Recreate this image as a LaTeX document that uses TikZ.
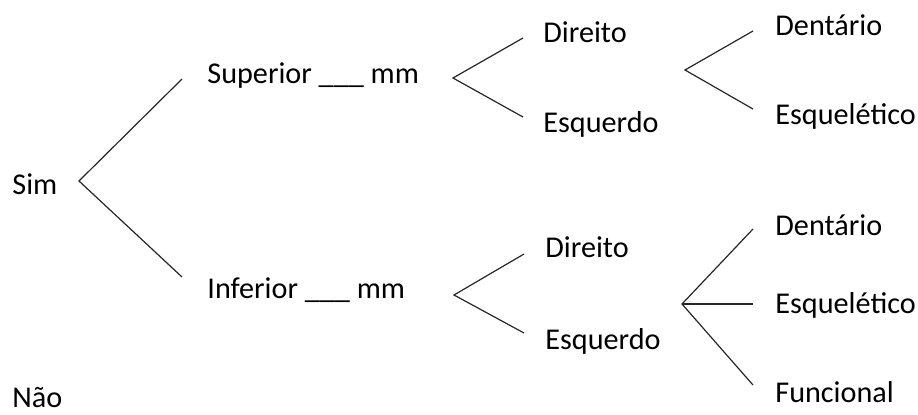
\documentclass[tikz,border=0pt]{standalone}
\usepackage{fontspec}
\setmainfont{Carlito}

\begin{document}
\begin{tikzpicture}[x=0.5pt, y=-0.5pt]
        \tikzset{lbl/.style={anchor=base west, inner sep=0pt, font=\fontsize{15.1}{17}\selectfont}}
        \tikzset{fork/.style={line width=0.6pt, black!85}}

        \useasboundingbox (0, 0) rectangle (918, 414);

        % first level
        \node[lbl] (sim) at (12, 194) {Sim};
        \node[lbl] (nao) at (12, 407) {Não};

        \coordinate (sim-r) at (79, 181);
        \coordinate (sup-l) at (182, 79);
        \coordinate (inf-l) at (182, 277);

        \draw[fork] (sup-l) -- (sim-r) -- (inf-l);

        \node[lbl] (sup) at (207, 83)  {Superior \_\_\_ mm};
        \node[lbl] (inf) at (207, 298) {Inferior \_\_\_ mm};

        % superior
            \coordinate (sup-r)   at (453, 78);
            \coordinate (supd-l)  at (523, 38);
            \coordinate (supe-l)  at (523, 117);
            \draw[fork] (supd-l) -- (sup-r) -- (supe-l);

            \node[lbl] (supd) at (543, 42)  {Direito};
            \node[lbl] (supe) at (543, 132) {Esquerdo};

            \coordinate (supx-r)  at (685, 70);
            \coordinate (supxd-l) at (753, 31);
            \coordinate (supxe-l) at (753, 109);
            \draw[fork] (supxd-l) -- (supx-r) -- (supxe-l);

            \node[lbl] (supxd) at (775, 35)  {Dentário};
            \node[lbl] (supxe) at (775, 124) {Esquelético};

        % inferior
            \coordinate (inf-r)   at (454, 295);
            \coordinate (infd-l)  at (524, 254);
            \coordinate (infe-l)  at (524, 333);
            \draw[fork] (infd-l) -- (inf-r) -- (infe-l);

            \node[lbl] (infd) at (545, 257) {Direito};
            \node[lbl] (infe) at (545, 349) {Esquerdo};

            \coordinate (infx-r)  at (682, 304);
            \coordinate (infxd-l) at (753, 229);
            \coordinate (infxe-l) at (753, 304);
            \coordinate (infxf-l) at (753, 385);
            \draw[fork] (infxd-l) -- (infx-r) -- (infxf-l);
            \draw[fork] (infx-r) -- (infxe-l);

            \node[lbl] (infxd) at (775, 235) {Dentário};
            \node[lbl] (infxe) at (775, 313) {Esquelético};
            \node[lbl] (infxf) at (775, 402) {Funcional};

\end{tikzpicture}
\end{document}
